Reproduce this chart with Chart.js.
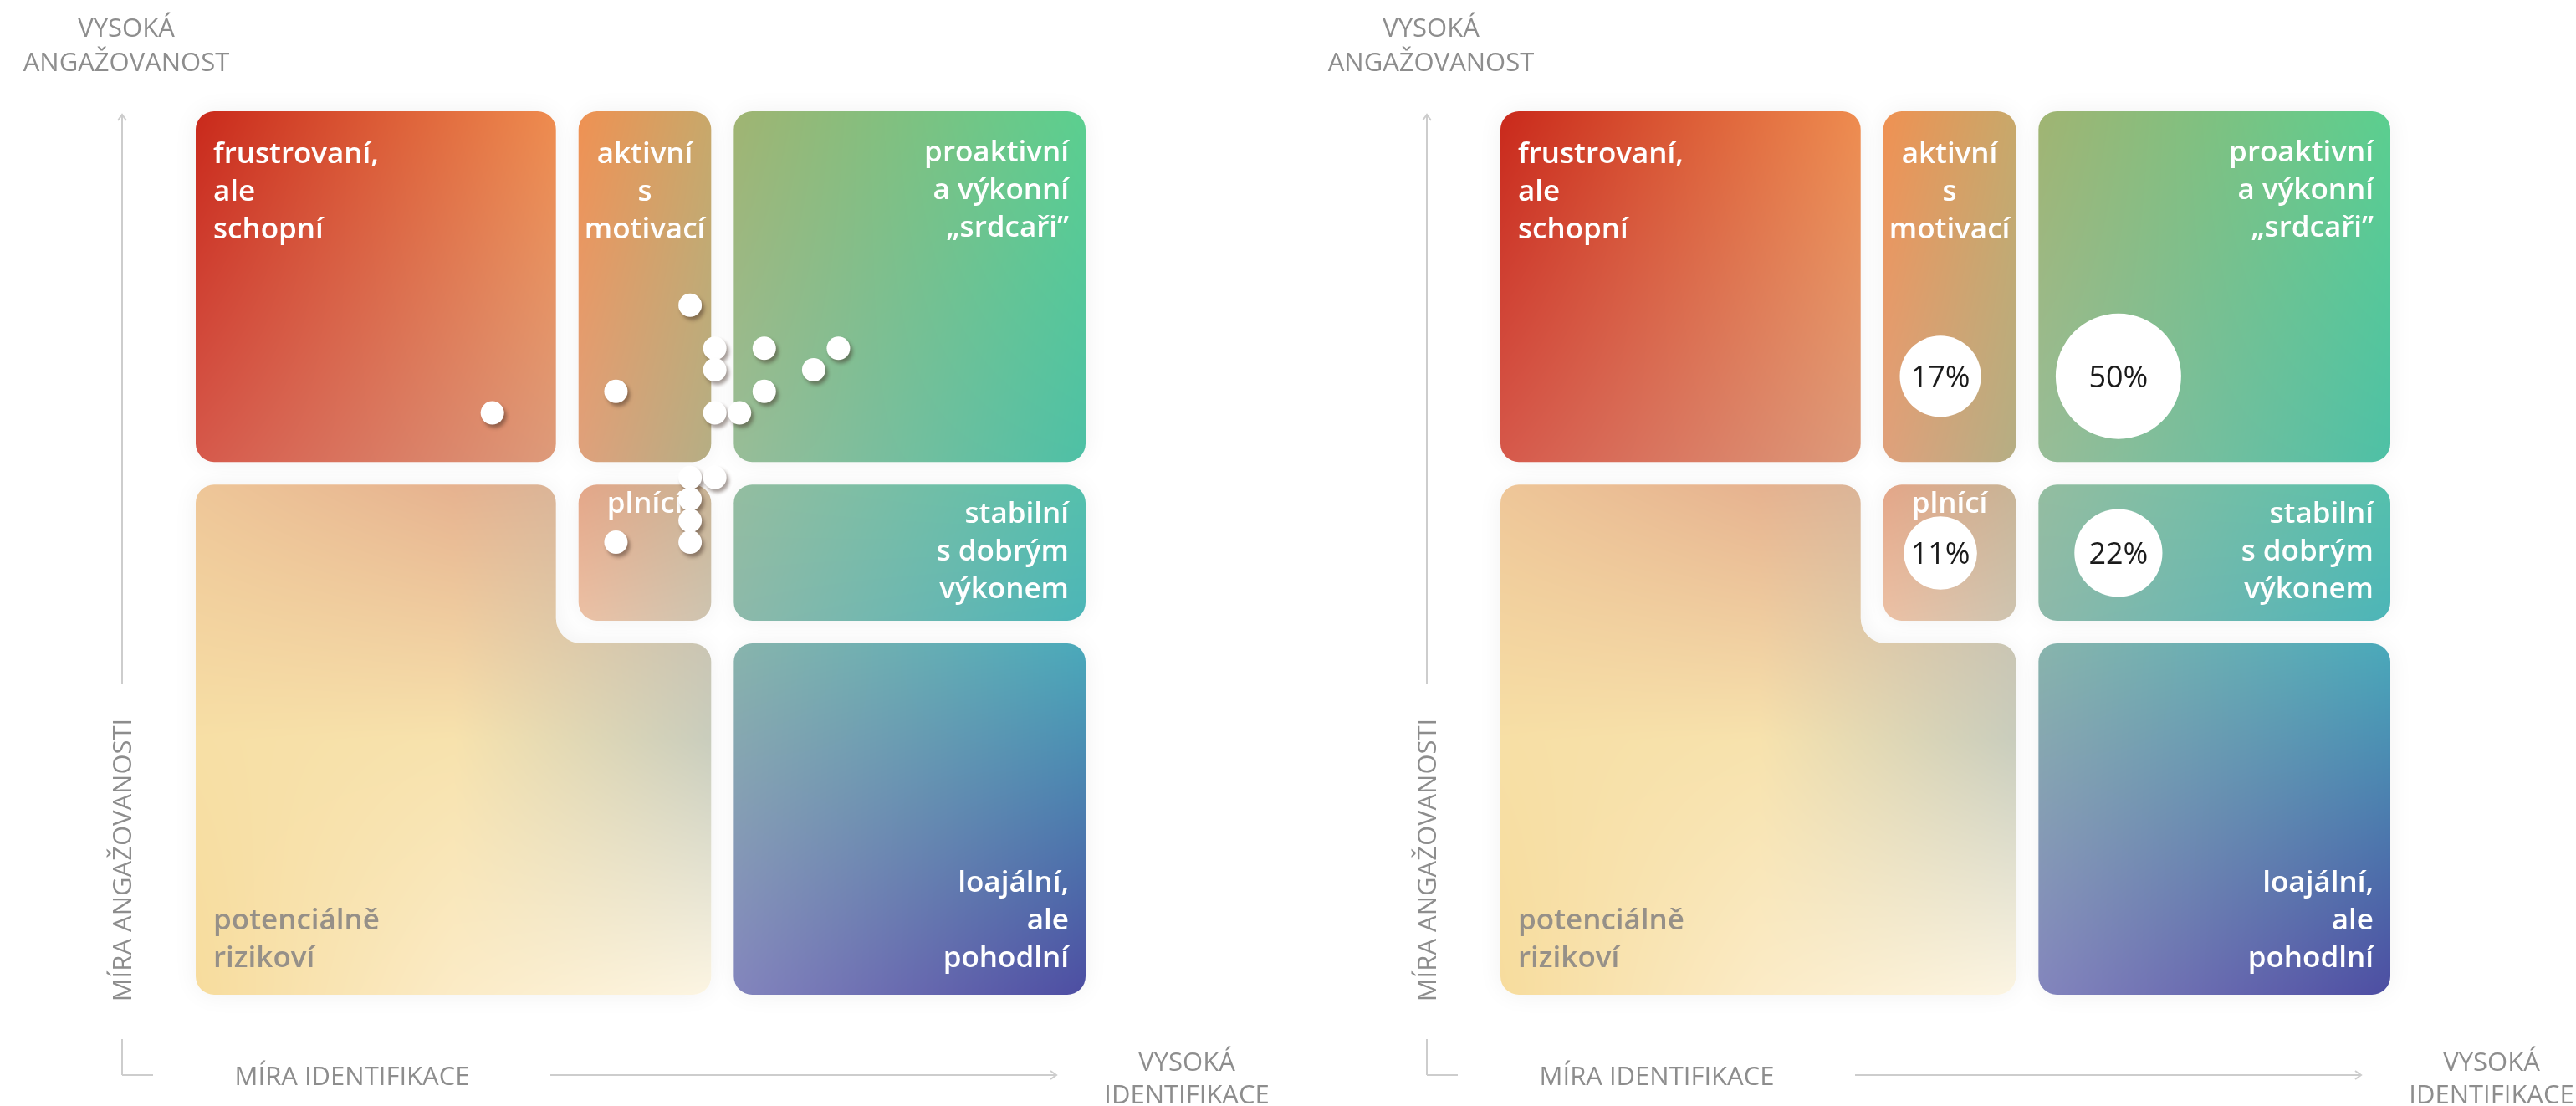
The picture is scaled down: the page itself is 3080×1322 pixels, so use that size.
<!DOCTYPE html>
<html lang="cs">
<head>
<meta charset="utf-8">
<title>Identifikace a angažovanost</title>
<script src="https://cdn.jsdelivr.net/npm/chart.js@4.4.1/dist/chart.umd.min.js"></script>
<style>
  html, body { margin: 0; padding: 0; background: #fff; }
  #wrap { position: relative; width: 3080px; height: 1322px; overflow: hidden; }
  canvas { position: absolute; top: 0; }
  #left { left: 0; }
  #right { left: 1560px; }
</style>
</head>
<body>
<div id="wrap">
  <canvas id="left" width="1520" height="1322"></canvas>
  <canvas id="right" width="1520" height="1322"></canvas>
</div>
<script>
// levá část - jednotliví respondenti (míra identifikace, míra angažovanosti)
const respIdent  = [12, 17, 17, 20, 20, 20, 20, 20, 21, 21, 21, 21, 22, 23, 23, 25, 26];
const respEngage = [27, 28, 21, 32, 24, 23, 22, 21, 30, 29, 27, 24, 27, 30, 28, 29, 30];

// pravá část - podíl skupin v %
const groupShare  = [17, 50, 11, 22];
const groupIdent  = [17.8, 25, 17.8, 25];
const groupEngage = [28.7, 28.7, 20.5, 20.5];

// rozsah os a hranice kvadrantů
const identMax = 36;
const engageMax = 41;
const identSplits  = [15.03, 21.31];
const engageSplits = [16.83, 24.2];

// popisky
const axisY = 'MÍRA ANGAŽOVANOSTI';
const axisX = 'MÍRA IDENTIFIKACE';
const highY = ['VYSOKÁ', 'ANGAŽOVANOST'];
const highX = ['VYSOKÁ', 'IDENTIFIKACE'];

const GAP = 27;       // mezera mezi dlaždicemi
const RADIUS = 22;    // zaoblení rohů
const LINE_H = 45;
const LABEL_FONT = '600 35px "Open Sans"';
const AXIS_FONT = '31px "Open Sans"';

// dlaždice: sloupec/řádek (řádek 0 = dole), barvy rohů, popisek
const tiles = [
  { col: 0, row: 2, lines: ['frustrovaní,', 'ale', 'schopní'], align: 'left', dy: 62,
    grid: [['#c9291b', '#ee8c4f'], ['#d6594b', '#dd9b7b']] },
  { col: 1, row: 2, lines: ['aktivní', 's', 'motivací'], align: 'center', dy: 62,
    grid: [['#ef9152', '#c8a86a'], ['#dfa17c', '#b5ae84']] },
  { col: 2, row: 2, lines: ['proaktivní', 'a výkonní', '\u201Esrdcaři\u201D'], align: 'right', dy: 60,
    grid: [['#a0b472', '#5bcf8f'], ['#98bd98', '#4ec0a6']] },
  { col: 1, row: 1, lines: ['plnící'], align: 'center', dy: 34,
    grid: [['#e4a688', '#c8b496'], ['#ecc1a5', '#cec4b0']] },
  { col: 2, row: 1, lines: ['stabilní', 's dobrým', 'výkonem'], align: 'right', dy: 46,
    grid: [['#94bda0', '#55c0ac'], ['#8db9aa', '#4cb5b8']] },
  { col: 2, row: 0, lines: ['loajální,', 'ale', 'pohodlní'], align: 'right', bottom: true,
    grid: [['#88b4ac', '#4aa9ba'], ['#8385bd', '#4d4da2']] }
];
const riskTile = {
  lines: ['potenciálně', 'rizikoví'], color: '#969088',
  grid: [['#eec698', '#e6b28f', '#c9b8a4'],
         ['#f7dfa5', '#f7e2ad', '#c9cdbd'],
         ['#f7dc9d', '#fbebc6', '#fcf5e3']]
};

function hexToRgb(h) {
  const n = parseInt(h.slice(1), 16);
  return [(n >> 16) & 255, (n >> 8) & 255, n & 255];
}

// bilineární přechod mezi barvami v mřížce
function meshCanvas(w, h, grid) {
  w = Math.ceil(w); h = Math.ceil(h);
  const c = document.createElement('canvas');
  c.width = w; c.height = h;
  const g = c.getContext('2d');
  const img = g.createImageData(w, h);
  const rows = grid.length, cols = grid[0].length;
  const cg = grid.map(r => r.map(hexToRgb));
  for (let y = 0; y < h; y++) {
    const v = y / (h - 1) * (rows - 1);
    const r0 = Math.min(Math.floor(v), rows - 2);
    const fv = v - r0;
    for (let x = 0; x < w; x++) {
      const u = x / (w - 1) * (cols - 1);
      const c0 = Math.min(Math.floor(u), cols - 2);
      const fu = u - c0;
      const a = cg[r0][c0], b = cg[r0][c0 + 1], d = cg[r0 + 1][c0], e = cg[r0 + 1][c0 + 1];
      const i = (y * w + x) * 4;
      for (let k = 0; k < 3; k++) {
        const top = a[k] * (1 - fu) + b[k] * fu;
        const bot = d[k] * (1 - fu) + e[k] * fu;
        img.data[i + k] = top * (1 - fv) + bot * fv;
      }
      img.data[i + 3] = 255;
    }
  }
  g.putImageData(img, 0, 0);
  return c;
}

function roundRectPath(ctx, l, t, r, b, rad) {
  ctx.beginPath();
  ctx.moveTo(l + rad, t);
  ctx.arcTo(r, t, r, t + rad, rad);
  ctx.arcTo(r, b, r - rad, b, rad);
  ctx.arcTo(l, b, l, b - rad, rad);
  ctx.arcTo(l, t, l + rad, t, rad);
  ctx.closePath();
}

function lPath(ctx, l, t, r1, midY, r2, b, rad) {
  ctx.beginPath();
  ctx.moveTo(l + rad, t);
  ctx.arcTo(r1, t, r1, t + rad, rad);
  ctx.arcTo(r1, midY, r1 + 30, midY, 30);
  ctx.arcTo(r2, midY, r2, midY + rad, rad);
  ctx.arcTo(r2, b, r2 - rad, b, rad);
  ctx.arcTo(l, b, l, b - rad, rad);
  ctx.arcTo(l, t, l + rad, t, rad);
  ctx.closePath();
}

function fillWithMesh(ctx, pathFn, l, t, r, b, grid) {
  ctx.save();
  pathFn();
  ctx.shadowColor = 'rgba(0,0,0,0.06)';
  ctx.shadowBlur = 30;
  ctx.fillStyle = '#fff';
  ctx.fill();
  ctx.restore();
  ctx.save();
  pathFn();
  ctx.clip();
  ctx.drawImage(meshCanvas(r - l + 1, b - t + 1, grid), Math.floor(l), Math.floor(t));
  ctx.restore();
}

function drawLines(ctx, lines, x, firstBaseline, align, color) {
  ctx.font = LABEL_FONT;
  ctx.fillStyle = color;
  ctx.textAlign = align;
  ctx.textBaseline = 'alphabetic';
  lines.forEach((s, i) => ctx.fillText(s, x, firstBaseline + i * LINE_H));
}

// kvadranty se počítají ze stupnic grafu
const quadrantPlugin = {
  id: 'quadrants',
  beforeDatasetsDraw(chart) {
    const ctx = chart.ctx;
    const xs = chart.scales.x, ys = chart.scales.y;
    const xe = [xs.getPixelForValue(0)];
    identSplits.forEach(s => { const p = xs.getPixelForValue(s); xe.push(p - GAP / 2, p + GAP / 2); });
    xe.push(xs.getPixelForValue(identMax));
    const ye = [ys.getPixelForValue(0)];
    engageSplits.forEach(s => { const p = ys.getPixelForValue(s); ye.push(p + GAP / 2, p - GAP / 2); });
    ye.push(ys.getPixelForValue(engageMax));
    const cell = (c, r) => ({ l: xe[2 * c], r: xe[2 * c + 1], b: ye[2 * r], t: ye[2 * r + 1] });

    tiles.forEach(tile => {
      const k = cell(tile.col, tile.row);
      fillWithMesh(ctx, () => roundRectPath(ctx, k.l, k.t, k.r, k.b, RADIUS), k.l, k.t, k.r, k.b, tile.grid);
      const x = tile.align === 'left' ? k.l + 21 : tile.align === 'right' ? k.r - 20 : (k.l + k.r) / 2;
      const y0 = tile.bottom ? k.b - 33 - (tile.lines.length - 1) * LINE_H : k.t + tile.dy;
      drawLines(ctx, tile.lines, x, y0, tile.align, '#fff');
    });

    // tvar L vlevo dole
    const a = cell(0, 1), z = cell(1, 0);
    fillWithMesh(ctx, () => lPath(ctx, a.l, a.t, a.r, z.t, z.r, z.b, RADIUS), a.l, a.t, z.r, z.b, riskTile.grid);
    drawLines(ctx, riskTile.lines, a.l + 21, z.b - 33 - LINE_H, 'left', riskTile.color);
  }
};

function arrowLine(ctx, x1, y1, x2, y2) {
  ctx.beginPath();
  ctx.moveTo(x1, y1);
  ctx.lineTo(x2, y2);
  ctx.stroke();
}

const axisPlugin = {
  id: 'axisDecor',
  afterDraw(chart) {
    const ctx = chart.ctx;
    const a = chart.chartArea;
    const ax = a.left - 88;
    const corner = a.bottom + 96;
    const vMid = a.bottom - 161;
    ctx.save();
    ctx.strokeStyle = '#cdcdcd';
    ctx.lineWidth = 2;
    // svislá osa se šipkou
    arrowLine(ctx, ax, a.top + 4, ax, vMid - 211);
    arrowLine(ctx, ax, vMid + 214, ax, corner);
    ctx.beginPath();
    ctx.moveTo(ax - 5, a.top + 11); ctx.lineTo(ax, a.top + 4); ctx.lineTo(ax + 5, a.top + 11);
    ctx.stroke();
    // vodorovná osa se šipkou
    const hEnd = a.right - 35;
    arrowLine(ctx, ax, corner, ax + 37, corner);
    arrowLine(ctx, a.left + 424, corner, hEnd, corner);
    ctx.beginPath();
    ctx.moveTo(hEnd - 7, corner - 5); ctx.lineTo(hEnd, corner); ctx.lineTo(hEnd - 7, corner + 5);
    ctx.stroke();

    ctx.fillStyle = '#8d8d8d';
    ctx.font = AXIS_FONT;
    ctx.textAlign = 'center';
    ctx.textBaseline = 'alphabetic';
    ctx.fillText(axisX, a.left + 187, corner + 12);
    ctx.fillText(highX[0], a.right + 121, corner - 5);
    ctx.fillText(highX[1], a.right + 121, corner + 34);
    ctx.fillText(highY[0], a.left - 83, 44);
    ctx.fillText(highY[1], a.left - 83, 85);
    ctx.translate(ax, vMid);
    ctx.rotate(-Math.PI / 2);
    ctx.fillText(axisY, 0, 11);
    ctx.restore();
  }
};

const shadowPlugin = {
  id: 'pointShadow',
  beforeDatasetDraw(chart) {
    const ctx = chart.ctx;
    ctx.save();
    ctx.shadowColor = 'rgba(60,40,30,0.45)';
    ctx.shadowBlur = 4;
    ctx.shadowOffsetX = 3;
    ctx.shadowOffsetY = 4;
  },
  afterDatasetDraw(chart) {
    chart.ctx.restore();
  }
};

const bubbleLabelPlugin = {
  id: 'bubbleLabels',
  afterDatasetsDraw(chart) {
    const ctx = chart.ctx;
    const meta = chart.getDatasetMeta(0);
    ctx.save();
    ctx.font = '36px "Open Sans"';
    ctx.fillStyle = '#1b1b1b';
    ctx.textAlign = 'center';
    ctx.textBaseline = 'alphabetic';
    meta.data.forEach((el, i) => ctx.fillText(groupShare[i] + '%', el.x, el.y + 13));
    ctx.restore();
  }
};

const bubbleRadius = share => 35 + 0.8 * share;

function baseOptions() {
  return {
    responsive: false,
    animation: false,
    devicePixelRatio: 1,
    events: [],
    layout: { padding: { left: 234, right: 222, top: 133, bottom: 133 } },
    plugins: { legend: { display: false }, tooltip: { enabled: false } },
    scales: {
      x: { type: 'linear', min: 0, max: identMax, display: false },
      y: { type: 'linear', min: 0, max: engageMax, display: false }
    }
  };
}

function build() {
  new Chart(document.getElementById('left'), {
    type: 'scatter',
    data: {
      datasets: [{
        data: respIdent.map((x, i) => ({ x, y: respEngage[i] })),
        pointRadius: 14,
        pointHoverRadius: 14,
        backgroundColor: '#ffffff',
        borderWidth: 0,
        clip: false
      }]
    },
    options: baseOptions(),
    plugins: [quadrantPlugin, shadowPlugin, axisPlugin]
  });

  new Chart(document.getElementById('right'), {
    type: 'bubble',
    data: {
      datasets: [{
        data: groupShare.map((s, i) => ({ x: groupIdent[i], y: groupEngage[i], r: bubbleRadius(s) })),
        backgroundColor: '#ffffff',
        borderWidth: 0,
        clip: false
      }]
    },
    options: baseOptions(),
    plugins: [quadrantPlugin, bubbleLabelPlugin, axisPlugin]
  });
}

Promise.all([
  document.fonts.load(LABEL_FONT),
  document.fonts.load(AXIS_FONT),
  document.fonts.load('36px "Open Sans"')
]).catch(() => {}).then(build);
</script>
</body>
</html>
